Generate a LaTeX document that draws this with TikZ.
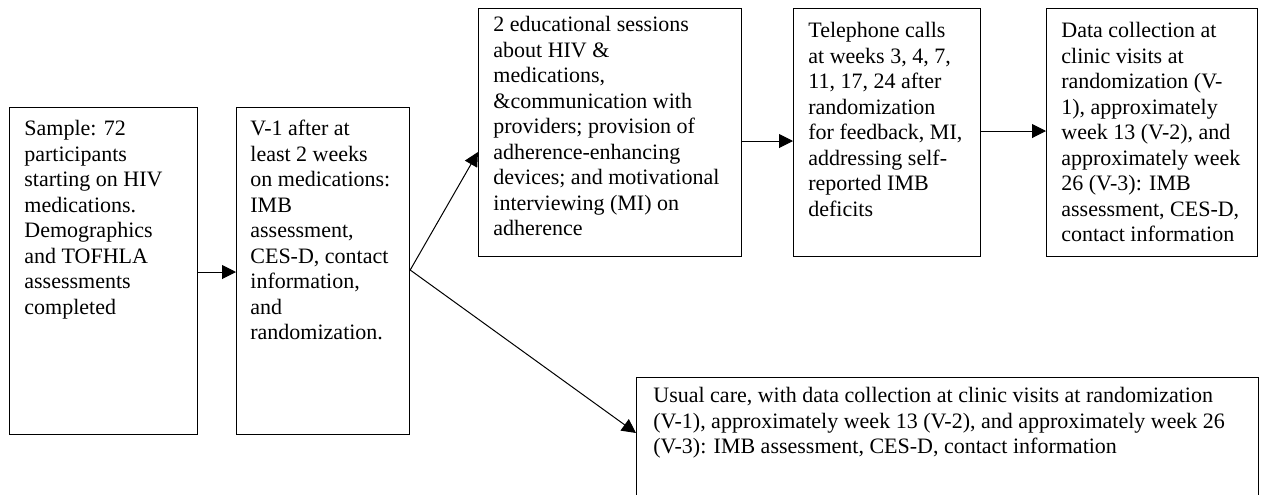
\documentclass[tikz,border=0pt]{standalone}
\usepackage{fontspec}
\setmainfont{Liberation Serif}
\usetikzlibrary{arrows.meta}
\begin{document}
\begin{tikzpicture}[x=0.5pt,y=-0.5pt,
  box/.style={draw, line width=0.6pt, rectangle, inner sep=0pt, anchor=north west},
  txt/.style={anchor=base west, inner sep=0pt, font=\fontsize{11}{12.75}\selectfont},
  arr/.style={line width=0.5pt, -{Triangle[length=7pt,width=7pt]}}]
\clip (0,0) rectangle (1266,494);
\fill[white] (0,0) rectangle (1266,494);
\node[box, minimum width=94pt, minimum height=163.5pt] (b1) at (9,107) {};
\node[box, minimum width=86.5pt, minimum height=163.5pt] (b2) at (236,107) {};
\node[box, minimum width=131.5pt, minimum height=124pt] (b3) at (478,8) {};
\node[box, minimum width=93.5pt, minimum height=124pt] (b4) at (793,8) {};
\node[box, minimum width=105.5pt, minimum height=124pt] (b5) at (1046,8) {};
\node[box, minimum width=311pt, minimum height=100pt] (b6) at (636,377) {};
\node[txt] (t1) at (24,135.5) {\begin{tabular}[t]{@{}l@{}}Sample: 72\\participants\\starting on HIV\\medications.\\Demographics\\and TOFHLA\\assessments\\completed\end{tabular}};
\node[txt] (t2) at (250,135.5) {\begin{tabular}[t]{@{}l@{}}V-1 after at\\least 2 weeks\\on medications:\\IMB\\assessment,\\CES-D, contact\\information,\\and\\randomization.\end{tabular}};
\node[txt] (t3) at (493,31.5) {\begin{tabular}[t]{@{}l@{}}2 educational sessions\\about HIV \&\\medications,\\\&communication with\\providers; provision of\\adherence-enhancing\\devices; and motivational\\interviewing (MI) on\\adherence\end{tabular}};
\node[txt] (t4) at (808,37.5) {\begin{tabular}[t]{@{}l@{}}Telephone calls\\at weeks 3, 4, 7,\\11, 17, 24 after\\randomization\\for feedback, MI,\\addressing self-\\reported IMB\\deficits\end{tabular}};
\node[txt] (t5) at (1061,37.5) {\begin{tabular}[t]{@{}l@{}}Data collection at\\clinic visits at\\randomization (V-\\1), approximately\\week 13 (V-2), and\\approximately week\\26 (V-3): IMB\\assessment, CES-D,\\contact information\end{tabular}};
\node[txt] (t6) at (653,402.5) {\begin{tabular}[t]{@{}l@{}}Usual care, with data collection at clinic visits at randomization\\(V-1), approximately week 13 (V-2), and approximately week 26\\(V-3): IMB assessment, CES-D, contact information\end{tabular}};
\draw[arr] ([yshift=-82.5pt]b1.north east) -- ([yshift=-82.5pt]b2.north west);
\draw[arr] ([yshift=-81.5pt]b2.north east) -- ([yshift=-72pt]b3.north west);
\draw[arr] ([yshift=-81.5pt]b2.north east) -- ([yshift=-28pt]b6.north west);
\draw[arr] ([yshift=-66.5pt]b3.north east) -- ([yshift=-66.5pt]b4.north west);
\draw[arr] ([yshift=-61.5pt]b4.north east) -- ([yshift=-61.5pt]b5.north west);
\end{tikzpicture}
\end{document}
